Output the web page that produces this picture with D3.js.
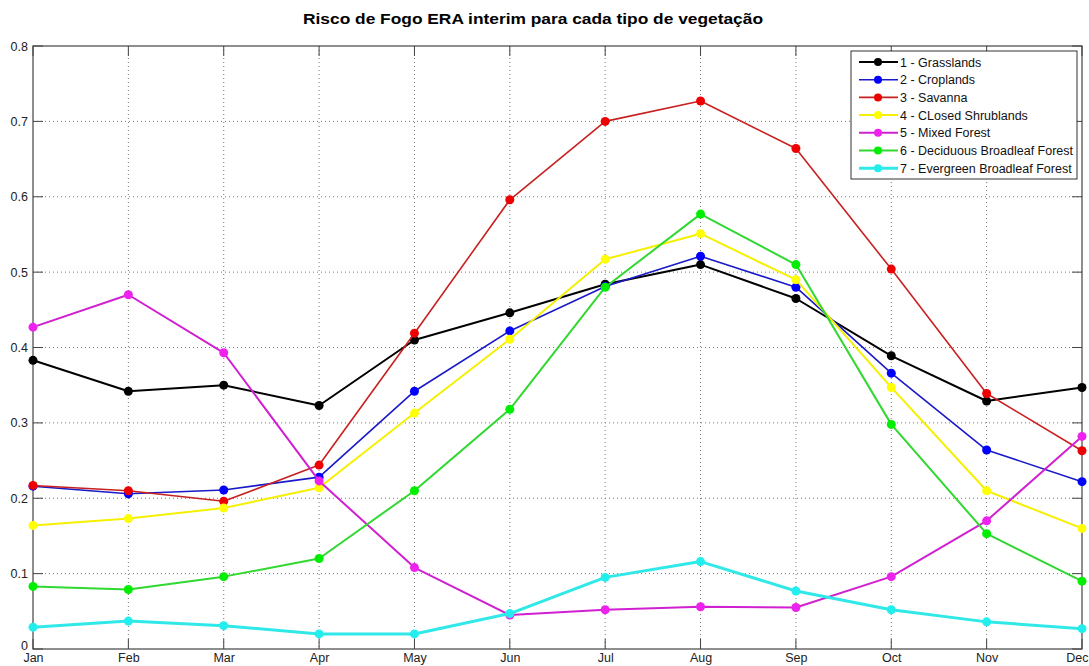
<!DOCTYPE html>
<html><head><meta charset="utf-8">
<script src="https://cdn.jsdelivr.net/npm/d3@7"></script>
<style>body{margin:0;background:#fff;} svg{display:block;font-family:"Liberation Sans",Arial,sans-serif;}</style>
</head><body>
<svg id="c" width="1089" height="666"></svg>
<script>
const months = ["Jan","Feb","Mar","Apr","May","Jun","Jul","Aug","Sep","Oct","Nov","Dec"];
const yTicks = [0,0.1,0.2,0.3,0.4,0.5,0.6,0.7,0.8];
const seriesNames = ["1 - Grasslands","2 - Croplands","3 - Savanna","4 - CLosed Shrublands","5 - Mixed Forest","6 - Deciduous Broadleaf Forest","7 - Evergreen Broadleaf Forest"];
const grasslands = [0.383,0.342,0.350,0.323,0.410,0.446,0.484,0.510,0.465,0.389,0.329,0.347];
const croplands  = [0.216,0.206,0.211,0.228,0.342,0.422,0.481,0.521,0.480,0.366,0.264,0.222];
const savanna    = [0.217,0.210,0.196,0.244,0.419,0.596,0.700,0.727,0.664,0.504,0.339,0.263];
const shrublands = [0.164,0.173,0.187,0.214,0.313,0.411,0.517,0.551,0.490,0.347,0.210,0.160];
const mixedForest= [0.427,0.470,0.393,0.223,0.108,0.045,0.052,0.056,0.055,0.096,0.170,0.282];
const deciduous  = [0.083,0.079,0.096,0.120,0.210,0.318,0.480,0.577,0.510,0.298,0.153,0.090];
const evergreen  = [0.029,0.037,0.031,0.020,0.020,0.047,0.095,0.116,0.077,0.052,0.036,0.027];
const allSeries = [grasslands,croplands,savanna,shrublands,mixedForest,deciduous,evergreen];
const lineColors = ["#000000","#1a1ac8","#c82020","#f5f000","#d020d0","#30d830","#30e8e8"];
const dotColors  = ["#000000","#0000ff","#ee0000","#ffff00","#ee22ee","#00ee00","#22eeee"];
const widths = [2,1.6,1.6,2,2,2,3];

const svg = d3.select("#c");
const L=33,R=1082,T=46,B=649;
const x = d3.scalePoint().domain(months).range([L,R]);
const y = d3.scaleLinear().domain([0,0.8]).range([B,T]);

// grid
const g = svg.append("g");
g.selectAll(".vg").data(months.slice(1,-1)).enter().append("line")
 .attr("x1",d=>x(d)).attr("x2",d=>x(d)).attr("y1",T).attr("y2",B)
 .attr("stroke","#777").attr("stroke-width",1).attr("stroke-dasharray","1,3");
g.selectAll(".hg").data(yTicks.slice(1,-1)).enter().append("line")
 .attr("x1",L).attr("x2",R).attr("y1",d=>y(d)).attr("y2",d=>y(d))
 .attr("stroke","#777").attr("stroke-width",1).attr("stroke-dasharray","1,3");

// axes
const xb = d3.axisBottom(x).tickSize(0).tickPadding(4);
svg.append("g").attr("transform",`translate(0,${B})`).call(xb)
 .call(a=>a.select(".domain").remove())
 .selectAll("text").attr("font-size",12.5).attr("fill","#222").attr("font-family","Liberation Sans, Arial")
 .attr("text-anchor",d=>d==="Dec"?"end":"middle").attr("x",d=>d==="Dec"?6:0);
const yl = d3.axisLeft(y).tickValues(yTicks).tickSize(0).tickPadding(5).tickFormat(d=>d===0?"0":d3.format(".1f")(d));
svg.append("g").attr("transform",`translate(${L},0)`).call(yl)
 .call(a=>a.select(".domain").remove())
 .selectAll("text").attr("font-size",12.5).attr("fill","#222").attr("font-family","Liberation Sans, Arial")
 .attr("y",d=>d===0?-4:0);

// tick marks inward
const tk=10;
svg.append("g").selectAll("line").data(months).enter().append("line")
 .attr("x1",d=>x(d)).attr("x2",d=>x(d)).attr("y1",B).attr("y2",B-tk).attr("stroke","#444");
svg.append("g").selectAll("line").data(months).enter().append("line")
 .attr("x1",d=>x(d)).attr("x2",d=>x(d)).attr("y1",T).attr("y2",T+tk).attr("stroke","#444");
svg.append("g").selectAll("line").data(yTicks).enter().append("line")
 .attr("x1",L).attr("x2",L+tk).attr("y1",d=>y(d)).attr("y2",d=>y(d)).attr("stroke","#444");
svg.append("g").selectAll("line").data(yTicks).enter().append("line")
 .attr("x1",R).attr("x2",R-tk).attr("y1",d=>y(d)).attr("y2",d=>y(d)).attr("stroke","#444");
svg.append("rect").attr("x",L).attr("y",T).attr("width",R-L).attr("height",B-T)
 .attr("fill","none").attr("stroke","#444").attr("stroke-width",1.2);

// lines
const line = d3.line().x((d,i)=>x(months[i])).y(d=>y(d));
allSeries.forEach((s,k)=>{
  svg.append("path").datum(s).attr("d",line).attr("fill","none")
   .attr("stroke",lineColors[k]).attr("stroke-width",widths[k]).attr("stroke-linejoin","round");
  svg.append("g").selectAll("circle").data(s).enter().append("circle")
   .attr("cx",(d,i)=>x(months[i])).attr("cy",d=>y(d)).attr("r",4.5).attr("fill",dotColors[k]);
});

// legend
const lg = svg.append("g");
lg.append("rect").attr("x",851).attr("y",51).attr("width",226).attr("height",128)
 .attr("fill","#fff").attr("stroke","#333").attr("stroke-width",1);
seriesNames.forEach((n,k)=>{
  const yy = 62 + k*17.7;
  lg.append("line").attr("x1",859).attr("x2",898).attr("y1",yy).attr("y2",yy)
   .attr("stroke",lineColors[k]).attr("stroke-width",widths[k]);
  lg.append("circle").attr("cx",878).attr("cy",yy).attr("r",4).attr("fill",dotColors[k]);
  lg.append("text").attr("x",900).attr("y",yy+4.5).attr("font-size",12.5).attr("fill","#111").text(n);
});

// title
svg.append("text").attr("x",533).attr("y",24).attr("text-anchor","middle")
 .attr("font-size",15).attr("font-weight","bold").attr("fill","#000")
 .attr("textLength",460).attr("lengthAdjust","spacingAndGlyphs")
 .text("Risco de Fogo ERA interim para cada tipo de vegetação");
</script>
</body></html>
